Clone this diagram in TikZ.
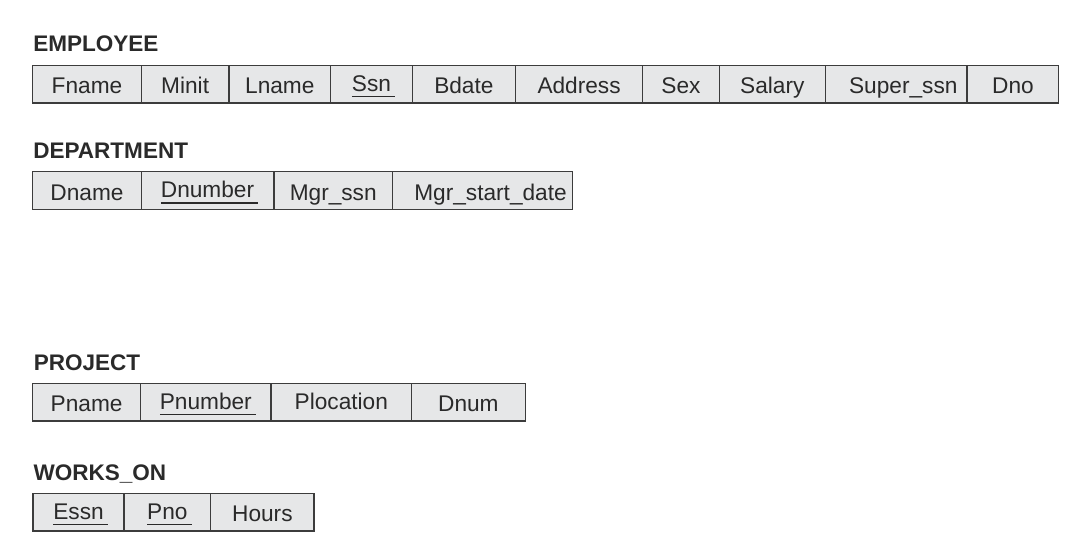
\documentclass[tikz,border=0pt]{standalone}
\usepackage{fontspec}
\setmainfont{Liberation Sans}
\definecolor{cellfill}{HTML}{E6E7E8}
\definecolor{bordercol}{HTML}{3C3C3C}
\definecolor{textcol}{HTML}{2A2A2A}
\newcommand\cellfont{\fontsize{17pt}{20pt}\selectfont}
\newcommand\titlefont{\bfseries\fontsize{16.9pt}{20pt}\selectfont}
\newcommand\keyattr[1]{\raisebox{2pt}{\setbox0\hbox{#1}\rlap{\rule[-4.5pt]{\dimexpr\wd0+3pt\relax}{1pt}}\box0}}
\tikzset{
  cell/.style={draw=bordercol, fill=cellfill, line width=1.1pt, inner xsep=0pt, inner ysep=0pt,
    text height=21.4pt, text depth=6.75pt, anchor=south west, font=\cellfont, text=textcol,
    minimum width=#1*0.75pt},
  reltitle/.style={anchor=base west, inner sep=0pt, font=\titlefont, text=textcol}
}
\begin{document}
\begin{tikzpicture}[x=0.75pt,y=-0.75pt]
\useasboundingbox (0,0) rectangle (1066,538);
% EMPLOYEE
\node[reltitle] (empT) at (33,52) {EMPLOYEE};
\node[cell=108.5] (e1) at (32,103.7) {Fname};
\node[cell=87.8]  (e2) at (140.5,103.7) {Minit};
\node[cell=101.6] (e3) at (228.3,103.7) {Lname};
\node[cell=81.6]  (e4) at (329.9,103.7) {\keyattr{Ssn}};
\node[cell=103.3] (e5) at (411.5,103.7) {Bdate};
\node[cell=127.1] (e6) at (514.8,103.7) {Address};
\node[cell=76.6]  (e7) at (641.9,103.7) {Sex};
\node[cell=106.2] (e8) at (718.5,103.7) {Salary};
\node[cell=141.7] (e9) at (824.7,103.7) {\hspace*{10.5pt}Super\_ssn};
\node[cell=91.6]  (e10) at (966.4,103.7) {Dno};
% DEPARTMENT
\node[reltitle] (depT) at (33,158.3) {DEPARTMENT};
\node[cell=108.5] (d1) at (32,210) {Dname};
\node[cell=132.6] (d2) at (140.5,210) {\keyattr{Dnumber}};
\node[cell=118.8] (d3) at (273.1,210) {Mgr\_ssn};
\node[cell=179.8] (d4) at (391.9,210) {\hspace*{12pt}Mgr\_start\_date};
% PROJECT
\node[reltitle] (proT) at (33.5,370.7) {PROJECT};
\node[cell=107.8] (p1) at (32,421.7) {Pname};
\node[cell=130.5] (p2) at (139.8,421.7) {\keyattr{Pnumber}};
\node[cell=140.5] (p3) at (270.3,421.7) {\raisebox{1.5pt}{Plocation}};
\node[cell=113.7] (p4) at (410.8,421.7) {Dnum};
% WORKS_ON
\node[reltitle] (worT) at (33.3,480) {WORKS\_ON};
\node[cell=91]   (w1) at (32.3,531.5) {\keyattr{Essn}};
\node[cell=86.7] (w2) at (123.3,531.5) {\keyattr{Pno}};
\node[cell=103.3] (w3) at (210,531.5) {Hours};
\end{tikzpicture}
\end{document}
